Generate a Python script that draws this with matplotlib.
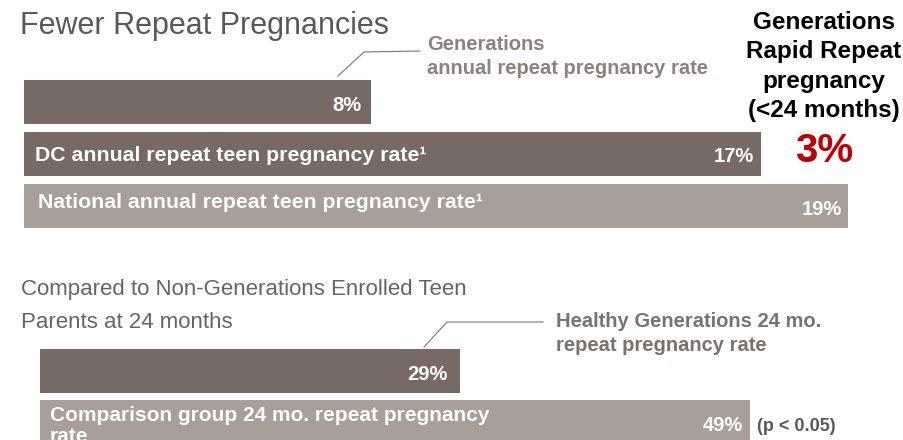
import matplotlib
matplotlib.use("Agg")
import matplotlib.pyplot as plt
from matplotlib.lines import Line2D

plt.rcParams['font.family'] = ['Liberation Sans', 'DejaVu Sans']

# data
top_labels = ["", "DC annual repeat teen pregnancy rate\u00b9",
              "National annual repeat teen pregnancy rate\u00b9"]
top_values = [8, 17, 19]
top_colors = ['#776a65', '#776a65', '#a89e9a']

bottom_labels = ["", "Comparison group 24 mo. repeat pregnancy\nrate"]
bottom_values = [29, 49]
bottom_colors = ['#776a65', '#a89e9a']

W, H = 904, 440
fig = plt.figure(figsize=(W / 100, H / 100), dpi=100)


def fx(px):
    return px / W


def fy(py):
    return 1 - py / H


# label nudges in pixels (dx from bar end, dy of baseline below bar centre)
# note: va='baseline' on multi-line text pins the last line
top_val_dx = [-9, -7, -6]
top_val_dy = [9, 8, 9]
top_lab_dx = [0, 11, 14]
top_lab_dy = [0, 7, 2]

# top panel
ax1 = fig.add_axes([fx(24), fy(232), fx(880), 156 / H])
ax1.barh(range(3), top_values, height=44 / 52, color=top_colors)
ax1.set_xlim(0, 880 / 43.37)
ax1.set_ylim(2.5, -0.5)
ax1.axis('off')
for i, (v, lab) in enumerate(zip(top_values, top_labels)):
    ax1.annotate(f"{v}%", xy=(v, i), xytext=(top_val_dx[i], -top_val_dy[i]),
                 textcoords='offset pixels', ha='right', va='baseline',
                 color='white', fontsize=14.5, fontweight='bold')
    if lab:
        ax1.annotate(lab, xy=(0, i), xytext=(top_lab_dx[i], -top_lab_dy[i]),
                     textcoords='offset pixels', ha='left', va='baseline',
                     color='white', fontsize=15.3, fontweight='bold')

# bottom panel
bot_val_dx = [-12, -7]
ax2 = fig.add_axes([fx(40), fy(447.5), fx(864), 102 / H])
ax2.barh(range(2), bottom_values, height=44 / 51, color=bottom_colors)
ax2.set_xlim(0, 864 / 14.48)
ax2.set_ylim(1.5, -0.5)
ax2.axis('off')
for i, (v, lab) in enumerate(zip(bottom_values, bottom_labels)):
    ax2.annotate(f"{v}%", xy=(v, i), xytext=(bot_val_dx[i], -9),
                 textcoords='offset pixels', ha='right', va='baseline',
                 color='white', fontsize=14.5, fontweight='bold')
    if lab:
        ax2.annotate(lab, xy=(0, i), xytext=(10, -20),
                     textcoords='offset pixels', ha='left', va='baseline',
                     color='white', fontsize=15, fontweight='bold', linespacing=1.15)

# titles
fig.text(fx(20), fy(34), "Fewer Repeat Pregnancies", fontsize=22,
         color='#595959', va='baseline', ha='left')
fig.text(fx(21), fy(328), "Compared to Non-Generations Enrolled Teen\nParents at 24 months",
         fontsize=16, color='#6b6360', va='baseline', ha='left', linespacing=1.75)

# callouts
fig.text(fx(427), fy(74), "Generations\nannual repeat pregnancy rate", fontsize=14.5,
         fontweight='bold', color='#8c817d', va='baseline', ha='left', linespacing=1.3)
fig.add_artist(Line2D([fx(338), fx(364), fx(420)], [fy(76), fy(52), fy(51)],
                      color='#777777', lw=0.8))

fig.text(fx(556), fy(351), "Healthy Generations 24 mo.\nrepeat pregnancy rate", fontsize=14.5,
         fontweight='bold', color='#7b716d', va='baseline', ha='left', linespacing=1.35)
fig.add_artist(Line2D([fx(424), fx(447), fx(543)], [fy(347), fy(322), fy(322)],
                      color='#777777', lw=0.8))

fig.text(fx(824), fy(117), "Generations\nRapid Repeat\npregnancy\n(<24 months)", fontsize=17.5,
         fontweight='bold', color='black', va='baseline', ha='center', linespacing=1.35)
fig.text(fx(824), fy(162), "3%", fontsize=29, fontweight='bold', color='#c00000',
         va='baseline', ha='center')

fig.text(fx(757), fy(431), "(p < 0.05)", fontsize=13, fontweight='bold',
         color='#595959', va='baseline', ha='left')

fig.savefig("out.png", dpi=100)
